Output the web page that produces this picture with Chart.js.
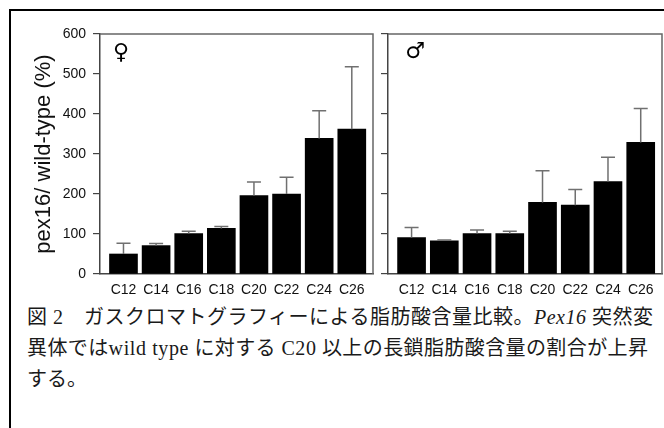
<!DOCTYPE html>
<html>
<head>
<meta charset="utf-8">
<script src="https://cdn.jsdelivr.net/npm/chart.js@4.4.1/dist/chart.umd.min.js"></script>
<style>
  html, body { margin: 0; padding: 0; background: #fff; }
  #fig { position: relative; width: 664px; height: 428px; overflow: hidden; }
  #frame { position: absolute; left: 9px; top: 9px; width: 700px; height: 500px;
           border-top: 2px solid #000; border-left: 2px solid #000; }
  #femaleWrap { position: absolute; left: 0; top: 0; width: 380px; height: 300px; }
  #maleWrap { position: absolute; left: 380px; top: 0; width: 284px; height: 300px; }
  .cap { position: absolute; left: 27px; font-family: "Liberation Serif", "Noto Sans CJK JP", serif;
         font-size: 20px; line-height: 31px; color: #1a1a1a; white-space: nowrap; }
  .cap .m { letter-spacing: 0.6px; }
  #cap1 { top: 302px; letter-spacing: 0.5px; }
  #cap2 { top: 333px; letter-spacing: 0.4px; }
  #cap3 { top: 364px; }
</style>
</head>
<body>
<div id="fig">
  <div id="frame"></div>
  <div id="femaleWrap"><canvas id="femaleChart"></canvas></div>
  <div id="maleWrap"><canvas id="maleChart"></canvas></div>
  <div class="cap" id="cap1">図 2　ガスクロマトグラフィーによる脂肪酸含量比較。<i>Pex16</i> 突然変</div>
  <div class="cap" id="cap2">異体では<span class="m">wild type</span> に対する <span class="m">C20</span> 以上の長鎖脂肪酸含量の割合が上昇</div>
  <div class="cap" id="cap3">する。</div>
</div>
<script>
// ---- DATA ----
const categories = ['C12', 'C14', 'C16', 'C18', 'C20', 'C22', 'C24', 'C26'];
const femaleMean = [50, 71, 101, 114, 196, 200, 339, 362];
const femaleErr  = [27, 5, 6, 5, 34, 42, 69, 156];
const maleMean   = [91, 83, 101, 101, 179, 172, 231, 329];
const maleErr    = [25, 2, 9, 6, 79, 39, 61, 85];
const yTicks = [0, 100, 200, 300, 400, 500, 600];

const ink = '#111';
const axisGrey = '#444';
const errGrey = '#707070';

// error bars (upper only) + plot frame
const errorBars = {
  id: 'errorBars',
  afterDatasetsDraw(chart, args, opts) {
    const { ctx, chartArea } = chart;
    const xs = chart.scales.x, ys = chart.scales.y;
    const means = opts.means, errs = opts.errs;
    ctx.save();
    ctx.strokeStyle = errGrey;
    ctx.lineWidth = 1.5;
    means.forEach((m, i) => {
      const x = xs.getPixelForValue(i);
      const yb = ys.getPixelForValue(m);
      const yt = ys.getPixelForValue(m + errs[i]);
      ctx.beginPath();
      ctx.moveTo(x, yb);
      ctx.lineTo(x, yt);
      ctx.moveTo(x - 7, yt);
      ctx.lineTo(x + 7, yt);
      ctx.stroke();
    });
    // top + right frame lines
    ctx.strokeStyle = '#666';
    ctx.lineWidth = 1.5;
    ctx.beginPath();
    ctx.moveTo(chartArea.left, chartArea.top);
    ctx.lineTo(chartArea.right, chartArea.top);
    ctx.lineTo(chartArea.right, chartArea.bottom);
    ctx.stroke();
    ctx.restore();
  }
};

const sexMark = {
  id: 'sexMark',
  afterDraw(chart, args, opts) {
    const { ctx, chartArea } = chart;
    ctx.save();
    ctx.fillStyle = '#000';
    ctx.font = '22px "DejaVu Sans"';
    ctx.textAlign = 'center';
    ctx.textBaseline = 'middle';
    ctx.fillText(opts.text, chartArea.left + opts.dx, chartArea.top + opts.dy);
    ctx.restore();
  }
};

function makeChart(id, means, errs, mark, withLabels, yWidth, padRight) {
  return new Chart(document.getElementById(id), {
    type: 'bar',
    data: {
      datasets: [{
        data: means.map((v, i) => ({ x: i, y: v })),
        backgroundColor: '#000',
        borderWidth: 0,
        barThickness: 28,
      }]
    },
    options: {
      responsive: true,
      maintainAspectRatio: false,
      animation: false,
      layout: { padding: { top: 34, right: padRight, bottom: 0, left: 0 } },
      plugins: {
        legend: { display: false },
        tooltip: { enabled: false },
        errorBars: { means, errs },
        sexMark: mark,
      },
      scales: {
        x: {
          type: 'linear',
          offset: false,
          min: -0.72,
          max: 7.65,
          grid: { display: false, offset: false },
          border: { display: true, color: axisGrey, width: 1.5 },
          ticks: {
            stepSize: 1,
            includeBounds: false,
            autoSkip: false,
            maxRotation: 0,
            padding: 0,
            color: ink,
            font: { family: 'Liberation Sans', size: 14 },
            callback: v => (Number.isInteger(v) && categories[v]) ? categories[v] : '',
          },
          afterFit: s => { s.height = 26; },
        },
        y: {
          min: 0,
          max: 600,
          afterBuildTicks: s => { s.ticks = yTicks.map(v => ({ value: v })); },
          grid: { drawOnChartArea: false, drawTicks: true, tickLength: 7, color: axisGrey, lineWidth: 1.2 },
          border: { display: true, color: axisGrey, width: 1.5 },
          ticks: {
            display: withLabels,
            padding: 7,
            color: ink,
            font: { family: 'Liberation Sans', size: 14 },
          },
          title: {
            display: withLabels,
            text: 'pex16/ wild-type (%)',
            color: ink,
            font: { family: 'Liberation Sans', size: 22 },
            padding: { top: 31, bottom: 0 },
          },
          afterFit: s => { s.width = yWidth; },
        }
      }
    },
    plugins: [errorBars, sexMark]
  });
}

makeChart('femaleChart', femaleMean, femaleErr, { text: '♀', dx: 21, dy: 19 }, true, 100, 7);
makeChart('maleChart', maleMean, maleErr, { text: '♂', dx: 27, dy: 18 }, false, 8, 2);
</script>
</body>
</html>
